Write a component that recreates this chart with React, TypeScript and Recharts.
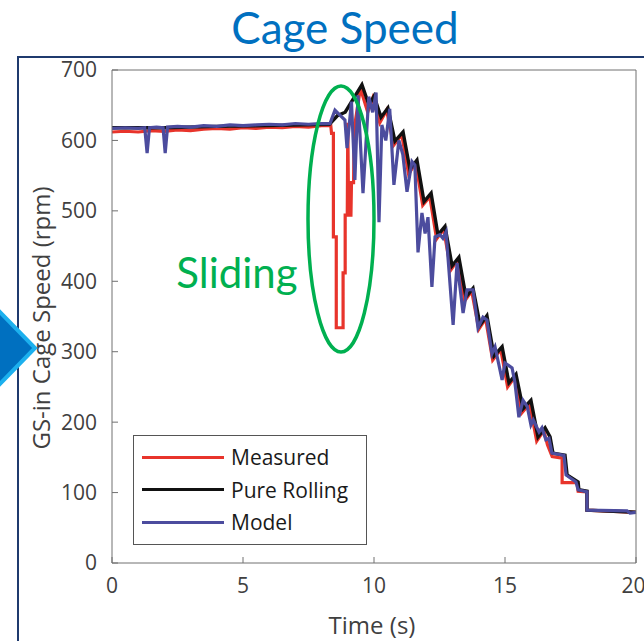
import React from 'react';
import { LineChart, Line, XAxis, YAxis } from 'recharts';

// time (s) vs GS-in cage speed (rpm)
const measured = [
  { t: 0, v: 612 }, { t: 0.5, v: 613 }, { t: 1, v: 612 }, { t: 1.5, v: 614 }, { t: 2, v: 613 },
  { t: 2.5, v: 615 }, { t: 3, v: 614 }, { t: 3.5, v: 616 }, { t: 4, v: 617 }, { t: 4.5, v: 616 },
  { t: 5, v: 618 }, { t: 5.5, v: 617 }, { t: 6, v: 619 }, { t: 6.5, v: 618 }, { t: 7, v: 620 },
  { t: 7.5, v: 619 }, { t: 8, v: 621 }, { t: 8.35, v: 621 }, { t: 8.38, v: 610 }, { t: 8.45, v: 610 },
  { t: 8.45, v: 463 }, { t: 8.56, v: 463 }, { t: 8.56, v: 334 }, { t: 8.82, v: 334 }, { t: 8.82, v: 412 },
  { t: 8.9, v: 412 }, { t: 8.9, v: 494 }, { t: 8.98, v: 494 }, { t: 9.0, v: 625 }, { t: 9.03, v: 494 },
  { t: 9.12, v: 494 }, { t: 9.14, v: 540 }, { t: 9.22, v: 540 }, { t: 9.24, v: 600 }, { t: 9.3, v: 630 },
  { t: 9.48, v: 674 }, { t: 9.76, v: 640 }, { t: 9.95, v: 660 }, { t: 10.22, v: 625 }, { t: 10.48, v: 643 },
  { t: 10.75, v: 593 }, { t: 11.06, v: 608 }, { t: 11.32, v: 552 }, { t: 11.59, v: 568 }, { t: 11.86, v: 508 },
  { t: 12.13, v: 520 }, { t: 12.39, v: 460 }, { t: 12.66, v: 474 }, { t: 12.93, v: 416 }, { t: 13.19, v: 430 },
  { t: 13.46, v: 372 }, { t: 13.73, v: 386 }, { t: 14.0, v: 332 }, { t: 14.26, v: 347 }, { t: 14.53, v: 288 },
  { t: 14.84, v: 303 }, { t: 15.1, v: 250 }, { t: 15.37, v: 264 }, { t: 15.64, v: 213 }, { t: 15.94, v: 226 },
  { t: 16.21, v: 173 }, { t: 16.48, v: 188 }, { t: 16.62, v: 168 }, { t: 16.8, v: 151 }, { t: 17.18, v: 149 },
  { t: 17.18, v: 114 }, { t: 17.75, v: 114 }, { t: 17.79, v: 102 }, { t: 18.13, v: 101 }, { t: 18.13, v: 75 },
  { t: 20, v: 72 },
];

const pureRolling = [
  { t: 0, v: 618 }, { t: 2, v: 618 }, { t: 4, v: 620 }, { t: 6, v: 621 }, { t: 8.3, v: 623 },
  { t: 8.6, v: 635 }, { t: 8.9, v: 640 }, { t: 9.54, v: 679 }, { t: 9.81, v: 650 }, { t: 10.0, v: 663 },
  { t: 10.27, v: 633 }, { t: 10.53, v: 646 }, { t: 10.8, v: 599 }, { t: 11.11, v: 612 }, { t: 11.37, v: 559 },
  { t: 11.64, v: 572 }, { t: 11.91, v: 513 }, { t: 12.18, v: 525 }, { t: 12.44, v: 466 }, { t: 12.71, v: 478 },
  { t: 12.98, v: 422 }, { t: 13.24, v: 434 }, { t: 13.51, v: 378 }, { t: 13.78, v: 390 }, { t: 14.05, v: 338 },
  { t: 14.31, v: 351 }, { t: 14.58, v: 294 }, { t: 14.89, v: 307 }, { t: 15.15, v: 256 }, { t: 15.42, v: 268 },
  { t: 15.69, v: 219 }, { t: 15.99, v: 231 }, { t: 16.26, v: 179 }, { t: 16.53, v: 192 }, { t: 16.72, v: 179 },
  { t: 16.83, v: 156 }, { t: 17.29, v: 153 }, { t: 17.37, v: 125 }, { t: 17.79, v: 115 }, { t: 17.82, v: 104 },
  { t: 18.13, v: 102 }, { t: 18.13, v: 75 }, { t: 20, v: 72 },
];

const model = [
  { t: 0, v: 617 }, { t: 0.5, v: 618 }, { t: 1.0, v: 617 }, { t: 1.25, v: 618 }, { t: 1.34, v: 582 },
  { t: 1.43, v: 618 }, { t: 1.7, v: 619 }, { t: 1.95, v: 618 }, { t: 2.03, v: 582 }, { t: 2.12, v: 619 },
  { t: 2.5, v: 620 }, { t: 3, v: 619 }, { t: 3.5, v: 621 }, { t: 4, v: 620 }, { t: 4.5, v: 622 },
  { t: 5, v: 621 }, { t: 5.5, v: 622 }, { t: 6, v: 623 }, { t: 6.5, v: 622 }, { t: 7, v: 624 },
  { t: 7.5, v: 623 }, { t: 8, v: 624 }, { t: 8.32, v: 624 }, { t: 8.51, v: 643 }, { t: 8.7, v: 636 },
  { t: 8.89, v: 629 }, { t: 8.97, v: 589 }, { t: 9.14, v: 655 }, { t: 9.27, v: 544 }, { t: 9.39, v: 664 },
  { t: 9.58, v: 525 }, { t: 9.8, v: 662 }, { t: 9.95, v: 640 }, { t: 10.08, v: 668 }, { t: 10.19, v: 484 },
  { t: 10.3, v: 622 }, { t: 10.45, v: 600 }, { t: 10.6, v: 645 }, { t: 10.76, v: 537 }, { t: 10.95, v: 600 },
  { t: 11.1, v: 580 }, { t: 11.26, v: 527 }, { t: 11.45, v: 570 }, { t: 11.56, v: 565 }, { t: 11.68, v: 441 },
  { t: 11.83, v: 497 }, { t: 11.95, v: 468 }, { t: 12.06, v: 491 }, { t: 12.21, v: 392 }, { t: 12.33, v: 463 },
  { t: 12.52, v: 466 }, { t: 12.63, v: 461 }, { t: 12.75, v: 470 }, { t: 13.02, v: 338 }, { t: 13.17, v: 426 },
  { t: 13.4, v: 355 }, { t: 13.55, v: 388 }, { t: 13.78, v: 388 }, { t: 13.97, v: 334 }, { t: 14.16, v: 349 },
  { t: 14.31, v: 345 }, { t: 14.5, v: 297 }, { t: 14.62, v: 307 }, { t: 14.89, v: 260 }, { t: 15.0, v: 284 },
  { t: 15.27, v: 277 }, { t: 15.38, v: 256 }, { t: 15.53, v: 207 }, { t: 15.69, v: 231 }, { t: 15.85, v: 222 },
  { t: 15.99, v: 196 }, { t: 16.08, v: 203 }, { t: 16.3, v: 186 }, { t: 16.41, v: 192 }, { t: 16.56, v: 175 },
  { t: 16.68, v: 177 }, { t: 16.79, v: 156 }, { t: 17.25, v: 153 }, { t: 17.33, v: 125 }, { t: 17.71, v: 115 },
  { t: 17.79, v: 104 }, { t: 18.13, v: 101 }, { t: 18.13, v: 75 }, { t: 19.66, v: 74 }, { t: 19.77, v: 71 },
  { t: 20, v: 72 },
];

const xTicks = [0, 5, 10, 15, 20];
const yTicks = [0, 100, 200, 300, 400, 500, 600, 700];

const legendItems = [
  { name: 'Measured', color: '#e8342b' },
  { name: 'Pure Rolling', color: '#111111' },
  { name: 'Model', color: '#4c4c9e' },
];

const axisColor = '#707070';
const tickStyle = { fill: '#404040', fontSize: 21, fontFamily: 'Open Sans' };

export default function App() {
  return (
    <div style={{ position: 'absolute', left: 0, top: 0, width: 644, height: 641, background: '#fff', overflow: 'hidden' }}>
      {/* slide frame */}
      <div style={{ position: 'absolute', left: 17, top: 56, width: 700, height: 700, border: '2px solid #1f3a6e', boxSizing: 'border-box' }} />

      <div style={{ position: 'absolute', left: 0, top: 0 }}>
        <LineChart width={644} height={641} margin={{ top: 69, right: 7, bottom: 0, left: 0 }}>
          <XAxis
            dataKey="t"
            type="number"
            domain={[0, 20]}
            ticks={xTicks}
            height={78}
            stroke={axisColor}
            tickSize={-6}
            tickMargin={21}
            tick={tickStyle}
          />
          <XAxis
            xAxisId="top"
            orientation="top"
            type="number"
            domain={[0, 20]}
            ticks={xTicks}
            height={1}
            stroke={axisColor}
            tickSize={-6}
            tick={false}
          />
          <YAxis
            type="number"
            domain={[0, 700]}
            ticks={yTicks}
            width={112}
            stroke={axisColor}
            tickSize={-6}
            tickMargin={21}
            tick={tickStyle}
          />
          <YAxis
            yAxisId="right"
            orientation="right"
            type="number"
            domain={[0, 700]}
            ticks={yTicks}
            width={1}
            stroke={axisColor}
            tickSize={-6}
            tick={false}
          />
          <Line data={measured} dataKey="v" name="Measured" type="linear" stroke="#e8342b" strokeWidth={3.2} dot={false} activeDot={false} isAnimationActive={false} />
          <Line data={pureRolling} dataKey="v" name="Pure Rolling" type="linear" stroke="#111111" strokeWidth={3.4} dot={false} activeDot={false} isAnimationActive={false} />
          <Line data={model} dataKey="v" name="Model" type="linear" stroke="#4c4c9e" strokeWidth={3.2} dot={false} activeDot={false} isAnimationActive={false} />
        </LineChart>
      </div>

      {/* legend */}
      <div style={{ position: 'absolute', left: 133, top: 435, width: 234, height: 110, border: '1px solid #555', boxSizing: 'border-box', background: '#fff' }}>
        {legendItems.map((it, i) => (
          <div key={it.name} style={{ position: 'absolute', left: 0, top: 8 + i * 32.5, height: 26, display: 'flex', alignItems: 'center' }}>
            <div style={{ marginLeft: 8, width: 82, height: 3, background: it.color }} />
            <span style={{ marginLeft: 7, fontFamily: 'Open Sans', fontSize: 21, color: '#1a1a1a', whiteSpace: 'nowrap' }}>{it.name}</span>
          </div>
        ))}
      </div>

      {/* annotations */}
      <svg width={644} height={641} style={{ position: 'absolute', left: 0, top: 0, pointerEvents: 'none' }}>
        <text x={345} y={44} textAnchor="middle" fill="#0070c0" fontSize={44} fontFamily="Lato">Cage Speed</text>
        <text x={372} y={634} textAnchor="middle" fill="#404040" fontSize={24} fontFamily="Open Sans">Time (s)</text>
        <text transform="translate(50,318) rotate(-90)" textAnchor="middle" fill="#404040" fontSize={24} fontFamily="Open Sans">GS-in Cage Speed (rpm)</text>
        <polygon points="-4,308 35,348 -4,388" fill="#0070c0" stroke="#1cb0ee" strokeWidth={4} />
        <ellipse cx={341} cy={219} rx={33} ry={133} fill="none" stroke="#00b050" strokeWidth={3.5} />
        <text x={237} y={288} textAnchor="middle" fill="#00b050" fontSize={42} fontFamily="Lato">Sliding</text>
      </svg>
    </div>
  );
}
